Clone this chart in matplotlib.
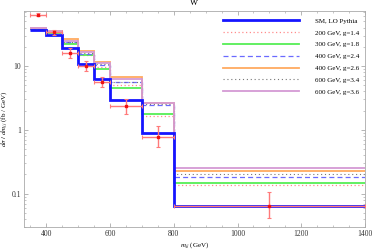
import numpy as np
import matplotlib
matplotlib.use("Agg")
import matplotlib.pyplot as plt
from matplotlib.ticker import LogLocator, MultipleLocator, FixedLocator

plt.rcParams['font.family'] = ['Liberation Serif', 'DejaVu Serif']
plt.rcParams['mathtext.fontset'] = 'stix'

# bin edges in m_jj (GeV)
edges = [350, 400, 450, 500, 550, 600, 700, 800, 1400]

sm = [37.0, 31.0, 19.0, 10.8, 6.2, 2.9, 0.88, 0.064]
m200_g14 = [38.0, 33.5, 23.0, 15.0, 9.6, 5.0, 1.65, 0.135]
m300_g18 = [37.5, 33.0, 22.5, 14.7, 9.1, 4.6, 1.78, 0.147]
m400_g24 = [38.0, 34.0, 23.6, 15.5, 10.4, 5.6, 2.45, 0.183]
m400_g26 = [39.5, 35.5, 26.5, 17.5, 11.5, 6.7, 2.65, 0.224]
m600_g34 = [38.5, 34.5, 24.0, 16.0, 10.6, 5.7, 2.5, 0.204]
m600_g36 = [39.0, 35.0, 25.0, 16.8, 11.0, 6.2, 2.62, 0.25]

# data points
data_x = [375, 425, 475, 525, 575, 650, 750, 1100]
data_xerr = [25, 25, 25, 25, 25, 50, 50, 300]
data_y = [64.0, 34.0, 16.2, 10.1, 5.7, 2.35, 0.78, 0.065]
data_lo = [3.5, 3.0, 2.6, 1.8, 1.0, 0.55, 0.24, 0.023]
data_hi = [3.5, 3.0, 2.8, 2.0, 1.1, 0.65, 0.37, 0.042]

fig = plt.figure(figsize=(3.74, 2.5), dpi=100)
ax = fig.add_axes([0.064, 0.092, 0.912, 0.864])

ax.stairs(sm, edges, baseline=None, color='#1515ff', lw=2.0, label='SM, LO Pythia', zorder=5)
ax.stairs(m200_g14, edges, baseline=None, color='#ff8c8c', lw=0.9, ls=(0, (1, 2)), label='200 GeV, g=1.4')
ax.stairs(m300_g18, edges, baseline=None, color='#55ee55', lw=1.3, label='300 GeV, g=1.8')
ax.stairs(m400_g24, edges, baseline=None, color='#6a6aff', lw=0.9, ls=(0, (4, 2.5)), label='400 GeV, g=2.4')
ax.stairs(m400_g26, edges, baseline=None, color='#ffaa60', lw=1.3, label='400 GeV, g=2.6')
ax.stairs(m600_g34, edges, baseline=None, color='#777777', lw=0.8, ls=(0, (1, 2.5)), label='600 GeV, g=3.4')
ax.stairs(m600_g36, edges, baseline=None, color='#d49ad4', lw=1.3, label='600 GeV, g=3.6')

ax.errorbar(data_x, data_y, xerr=data_xerr, yerr=[data_lo, data_hi], fmt='s', ms=2,
            color='#ee1111', ecolor='#ff7a7a', elinewidth=1.0, capsize=1.5, capthick=0.8,
            zorder=6)

ax.set_yscale('log')
ax.set_xlim(330, 1400)
ax.set_ylim(0.03, 73)

ax.xaxis.set_major_locator(FixedLocator([400, 600, 800, 1000, 1200, 1400]))
ax.xaxis.set_minor_locator(MultipleLocator(50))
ax.yaxis.set_major_locator(FixedLocator([0.1, 1, 10]))
ax.yaxis.set_minor_locator(LogLocator(base=10, subs=np.arange(2, 10)))
ax.set_yticklabels(['0.1', '1', '10'])

ax.tick_params(which='both', direction='in', top=True, right=True, color='#999999',
               labelsize=5.5, labelcolor='#333333', pad=2)
ax.tick_params(which='major', length=3, width=0.5)
ax.tick_params(which='minor', length=1.6, width=0.4)
for s in ax.spines.values():
    s.set_color('#aaaaaa')
    s.set_linewidth(0.6)

ax.set_title("W'", fontsize=6, pad=4)
ax.set_xlabel('$m_{jj}$ (GeV)', fontsize=5, labelpad=2)
ax.set_ylabel(r'$d\sigma\ /\ dm_{jj}$ (fb / GeV)', fontsize=5, labelpad=1)

ax.legend(loc='upper right', bbox_to_anchor=(1.0, 0.993), frameon=False, fontsize=5,
          handlelength=11, handletextpad=2.3, labelspacing=0.85, borderpad=0.3)

fig.savefig('out.png', dpi=100)
